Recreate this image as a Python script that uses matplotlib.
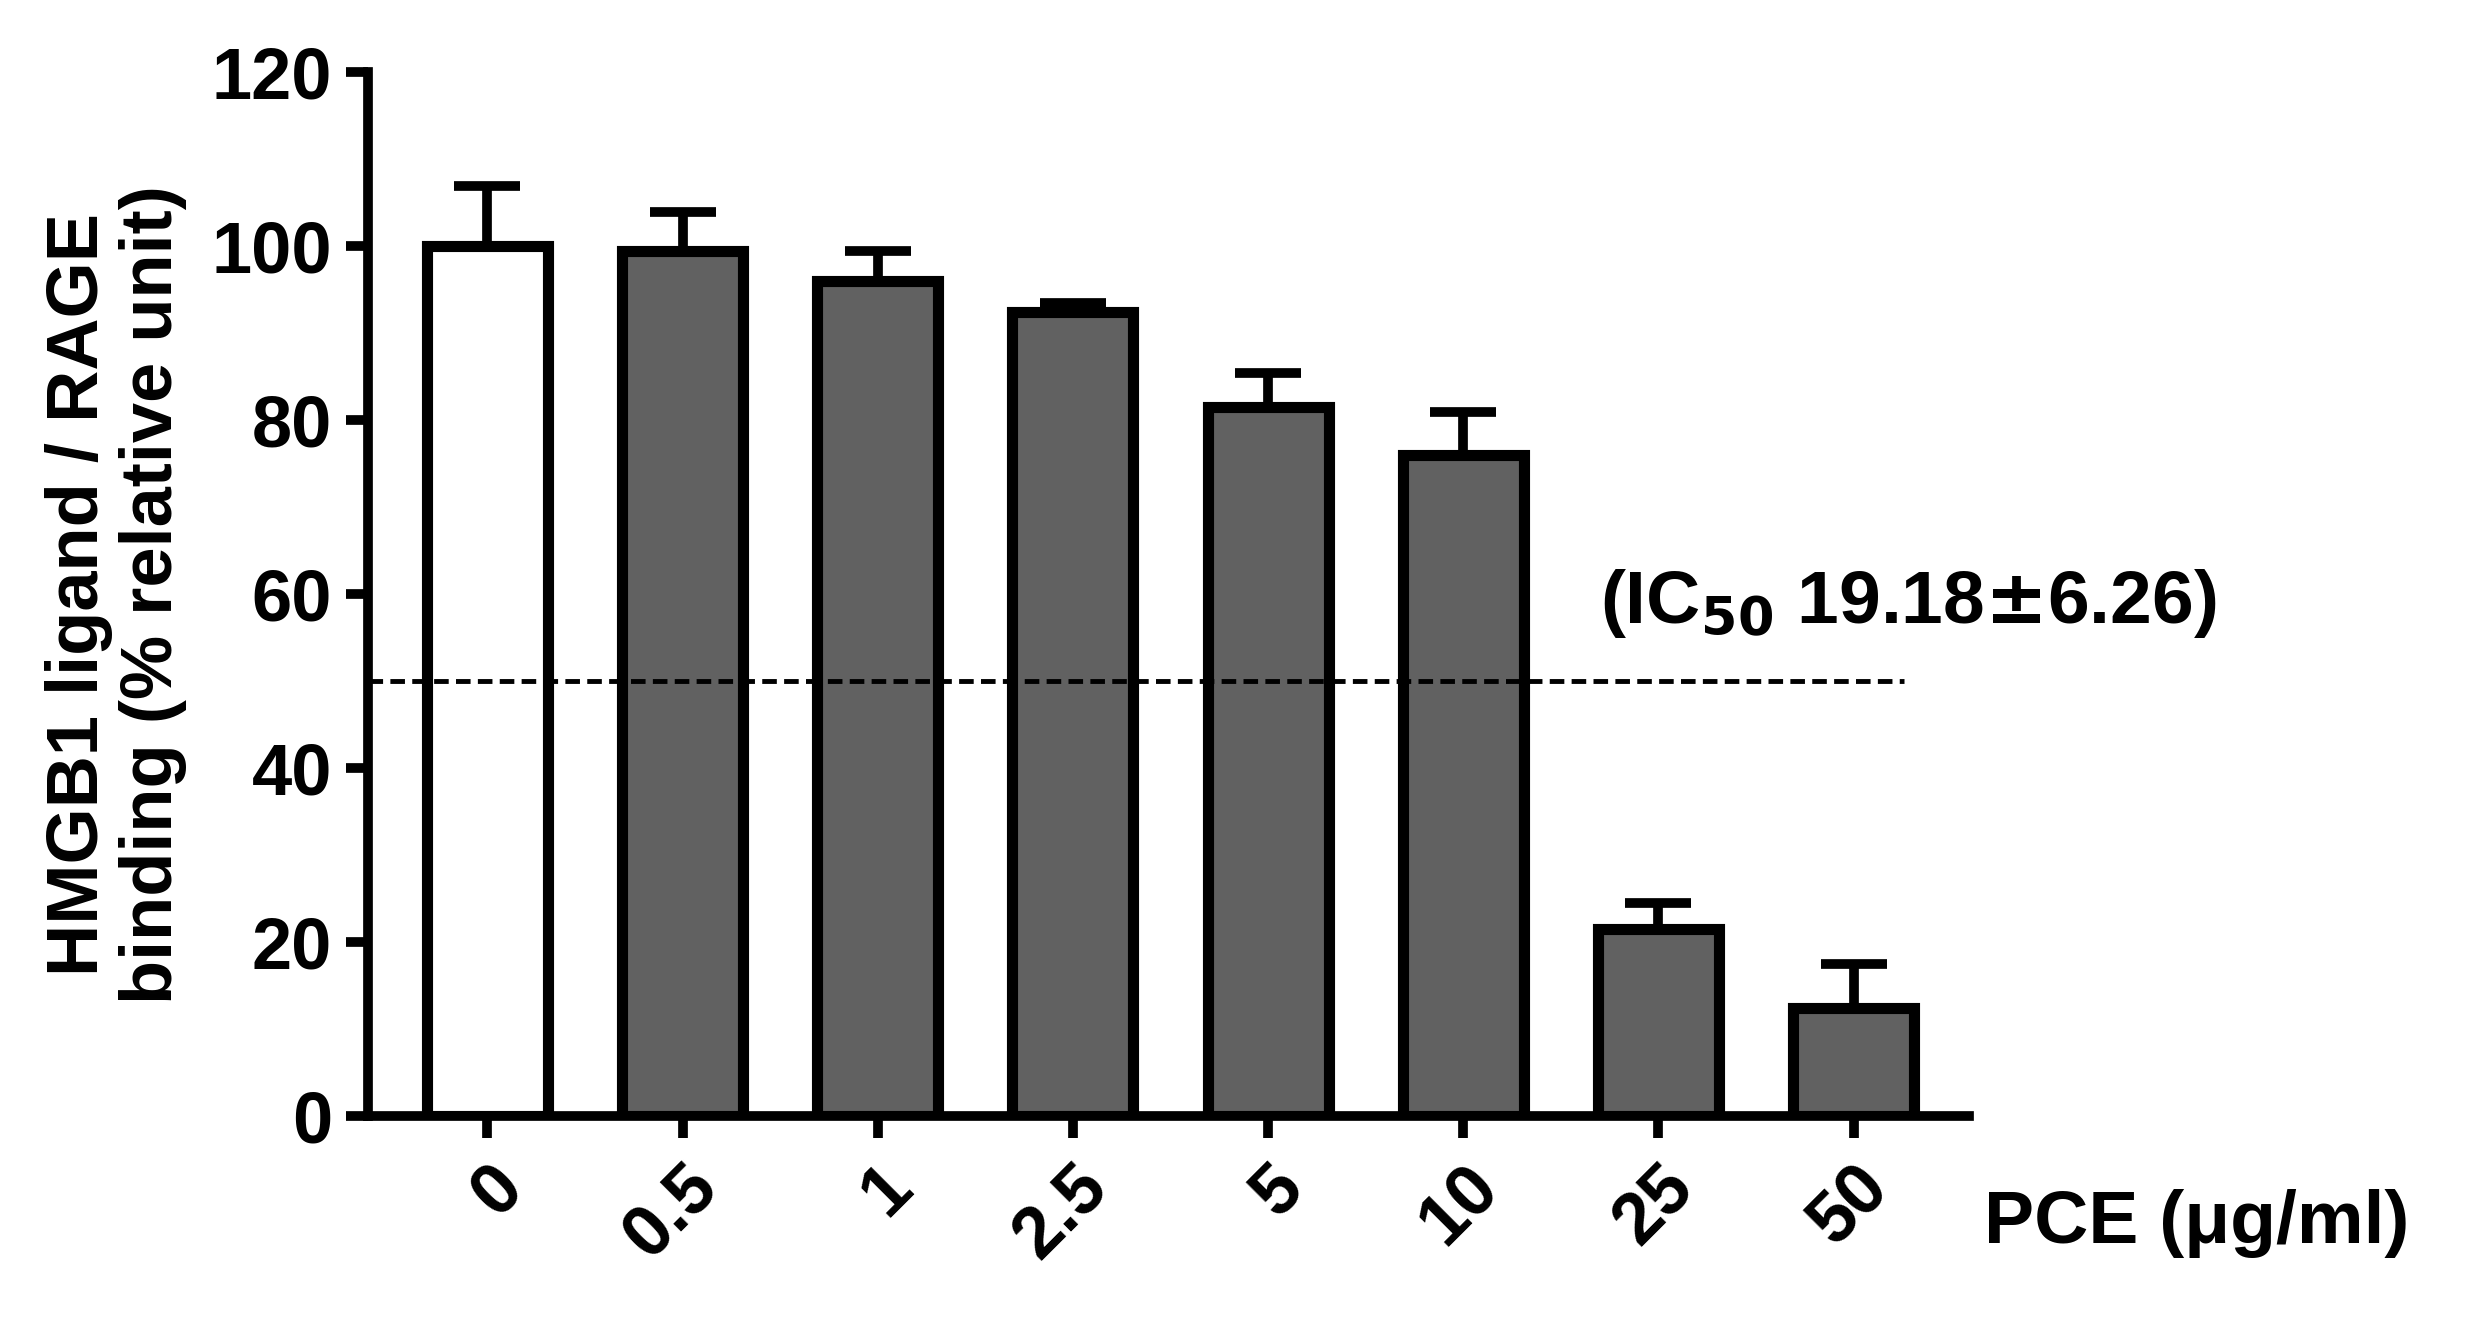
import matplotlib.pyplot as plt
import numpy as np

doses = ["0", "0.5", "1", "2.5", "5", "10", "25", "50"]
binding = [100, 99.5, 96, 92.5, 81.5, 76, 21.5, 12.5]
errors = [7, 4.5, 3.5, 1, 4, 5, 3, 5]
colors = ["white"] + ["#616161"] * 7

plt.rcParams["font.family"] = ["Liberation Sans", "DejaVu Sans"]
plt.rcParams["font.weight"] = "bold"

fig = plt.figure(figsize=(24.89, 13.18), dpi=100)
ax = fig.add_axes([0.148, 0.153, 0.643, 0.792])
x = np.arange(len(doses))
ax.bar(x, binding, width=0.62, color=colors, edgecolor="black", linewidth=8, zorder=2)
ax.errorbar(x, binding, yerr=[np.zeros(len(errors)), errors], fmt="none",
            ecolor="black", elinewidth=7, capsize=24, capthick=7, zorder=1)
ax.plot([-0.61, 7.26], [50, 50], ls=(0, (3, 1.5)), color="black", lw=3.5, zorder=3)

ax.set_xlim(-0.61, 7.59)
ax.set_ylim(0, 120)
ax.set_yticks(range(0, 121, 20))
ax.set_xticks(x)
ax.set_xticklabels(doses, rotation=45, ha="right", rotation_mode="anchor")
ax.tick_params(labelsize=52, width=7, length=16, pad=10)
for s in ["top", "right"]:
    ax.spines[s].set_visible(False)
for s in ["left", "bottom"]:
    ax.spines[s].set_linewidth(7)

ax.set_ylabel("HMGB1 ligand / RAGE\nbinding (% relative unit)", fontsize=52,
              fontweight="bold", labelpad=18, linespacing=1.1)
ax.text(5.7, 59, r"(IC$_{\mathbf{50}}$ 19.18$\pm$6.26)", fontsize=54,
        fontweight="bold", va="center")
fig.text(0.797, 0.072, "PCE (\u03bcg/ml)", fontsize=54, fontweight="bold", va="center")

fig.savefig("out.png", dpi=100)
